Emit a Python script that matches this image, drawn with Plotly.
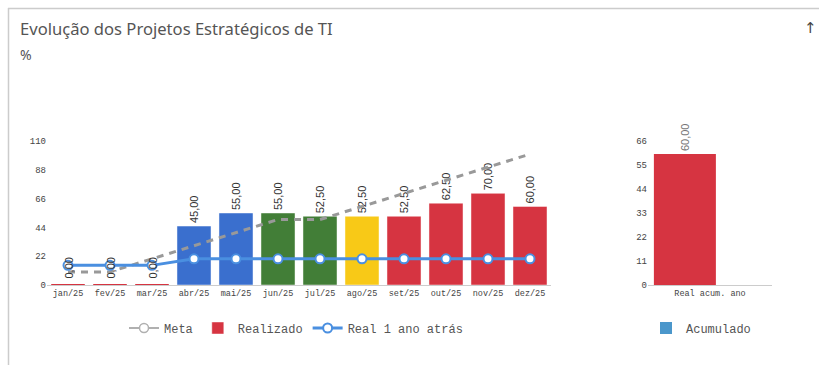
import plotly.graph_objects as go

# Monthly data (%)
meses = ["jan/25", "fev/25", "mar/25", "abr/25", "mai/25", "jun/25",
         "jul/25", "ago/25", "set/25", "out/25", "nov/25", "dez/25"]
realizado = [0, 0, 0, 45, 55, 55, 52.5, 52.5, 52.5, 62.5, 70, 60]
cores_realizado = ["#d63441", "#d63441", "#d63441", "#3a6fce", "#3a6fce", "#427e37",
                   "#427e37", "#f8c917", "#d63441", "#d63441", "#d63441", "#d63441"]
meta = [10, 10, 20, 30, 40, 50, 50, 60, 70, 80, 90, 100]
real_ano_anterior = [15, 15, 15, 20, 20, 20, 20, 20, 20, 20, 20, 20]

# Accumulated panel
acum_categoria = ["Real acum. ano"]
acum_valor = [60]

y1_ticks = [0, 22, 44, 66, 88, 110]
y2_ticks = [0, 11, 22, 33, 44, 55, 66]

W, H = 819, 365
MONO = "Liberation Mono, DejaVu Sans Mono, monospace"
SANS = "Liberation Sans, Arial, sans-serif"


def br(v):
    return f"{v:.2f}".replace(".", ",")


def px_x(p):
    return p / W


def px_y(p):
    return 1 - p / H


fig = go.Figure()

# Legend-only entry for the target line
fig.add_trace(go.Scatter(
    x=[None], y=[None], name="Meta", mode="lines+markers",
    line=dict(color="#b0b0b0", width=2),
    marker=dict(size=9, color="white", line=dict(color="#b0b0b0", width=1.5)),
    legend="legend", xaxis="x", yaxis="y", hoverinfo="skip",
))

# Bars with a value get an outside label; zero bars are labelled separately
fig.add_trace(go.Bar(
    x=meses, y=realizado, name="Realizado",
    marker=dict(color=cores_realizado, line=dict(color="rgba(255,255,255,0.45)", width=1)),
    text=[br(v) if v else "" for v in realizado], textposition="outside", textangle=-90,
    textfont=dict(family=SANS, size=11, color="#333333"),
    cliponaxis=False, legend="legend", xaxis="x", yaxis="y",
))

# Zero-valued months still show a thin baseline mark in the bar colour
# (line symbols are drawn 1.4x the marker size, so 24 gives a bar-wide stroke)
zero_x = [m for m, v in zip(meses, realizado) if v == 0]
zero_v = [v for v in realizado if v == 0]
zero_c = [c for c, v in zip(cores_realizado, realizado) if v == 0]
fig.add_trace(go.Scatter(
    x=zero_x, y=zero_v, mode="markers", showlegend=False,
    marker=dict(symbol="line-ew", size=24, line=dict(color=zero_c, width=2)),
    cliponaxis=False, xaxis="x", yaxis="y", hoverinfo="skip",
))

fig.add_trace(go.Scatter(
    x=meses, y=meta, name="Meta", mode="lines", showlegend=False,
    line=dict(color="#999999", width=3, dash="7px,6px"),
    xaxis="x", yaxis="y",
))

fig.add_trace(go.Scatter(
    x=meses, y=real_ano_anterior, name="Real 1 ano atrás", mode="lines+markers",
    line=dict(color="#4a8fe0", width=3),
    marker=dict(size=9, color="white", line=dict(color="#4a8fe0", width=2)),
    legend="legend", xaxis="x", yaxis="y", cliponaxis=False,
))

# Accumulated bar
fig.add_trace(go.Bar(
    x=acum_categoria, y=acum_valor, name="Acumulado", showlegend=False,
    width=0.5, marker=dict(color="#d63441"),
    text=[br(v) for v in acum_valor], textposition="outside", textangle=-90,
    textfont=dict(family=SANS, size=11, color="#777777"),
    cliponaxis=False, xaxis="x2", yaxis="y2",
))
fig.add_trace(go.Bar(
    x=acum_categoria, y=[None], name="Acumulado",
    marker=dict(color="#4b97cb"), legend="legend2",
    xaxis="x2", yaxis="y2", hoverinfo="skip",
))

tick_font = dict(family=MONO, size=9, color="#444444")
axis_common = dict(showgrid=False, zeroline=False, ticks="", automargin=False)

zero_labels = [
    dict(text=br(v), x=m, y=v, xref="x", yref="y", textangle=-90,
         xanchor="center", yanchor="bottom", yshift=4, showarrow=False,
         font=dict(family=SANS, size=11, color="#333333"))
    for m, v in zip(zero_x, zero_v)
]

fig.update_layout(
    template="none",
    width=W, height=H, autosize=False,
    margin=dict(l=0, r=0, t=0, b=0, pad=0),
    paper_bgcolor="white", plot_bgcolor="white",
    bargap=0.19, hovermode=False,
    xaxis=dict(domain=[px_x(47), px_x(551)], type="category", anchor="y",
               range=[-0.5, len(meses) - 0.5], tickfont=dict(tick_font, size=8.5),
               showline=True, linecolor="#cccccc", linewidth=1, **axis_common),
    yaxis=dict(domain=[px_y(285), px_y(141)], range=[0, 110], anchor="x",
               tickvals=y1_ticks, tickfont=tick_font, showline=False, **axis_common),
    xaxis2=dict(domain=[px_x(648), px_x(772)], type="category", anchor="y2",
                range=[-0.5, 0.5], tickfont=dict(tick_font, size=8.5),
                showline=True, linecolor="#cccccc", linewidth=1, **axis_common),
    yaxis2=dict(domain=[px_y(285), px_y(141)], range=[0, 66], anchor="x2",
                tickvals=y2_ticks, tickfont=tick_font, showline=False, **axis_common),
    legend=dict(orientation="h", x=px_x(296), xanchor="center",
                y=px_y(328), yanchor="middle", bgcolor="rgba(0,0,0,0)",
                font=dict(family=MONO, size=12, color="#555555"),
                traceorder="normal"),
    legend2=dict(orientation="h", x=px_x(701), xanchor="center",
                 y=px_y(328), yanchor="middle", bgcolor="rgba(0,0,0,0)",
                 font=dict(family=MONO, size=12, color="#555555")),
    annotations=zero_labels + [
        dict(text="Evolução dos Projetos Estratégicos de TI", x=px_x(18), y=px_y(28),
             xref="paper", yref="paper", xanchor="left", yanchor="middle",
             showarrow=False, font=dict(family="Noto Sans", size=16.6, color="#555555")),
        dict(text="%", x=px_x(18), y=px_y(55), xref="paper", yref="paper",
             xanchor="left", yanchor="middle", showarrow=False,
             font=dict(family="Noto Sans", size=14, color="#555555")),
        dict(text="↑", x=px_x(810), y=px_y(28), xref="paper", yref="paper",
             xanchor="center", yanchor="middle", showarrow=False,
             font=dict(family="DejaVu Sans", size=15, color="#444444")),
    ],
    shapes=[
        dict(type="line", xref="paper", yref="paper", x0=px_x(8), x1=1,
             y0=px_y(8.5), y1=px_y(8.5), line=dict(color="#cccccc", width=1.5)),
        dict(type="line", xref="paper", yref="paper", x0=px_x(8.5), x1=px_x(8.5),
             y0=px_y(8), y1=0, line=dict(color="#cccccc", width=1.5)),
    ],
)

fig.write_html("out.html")
